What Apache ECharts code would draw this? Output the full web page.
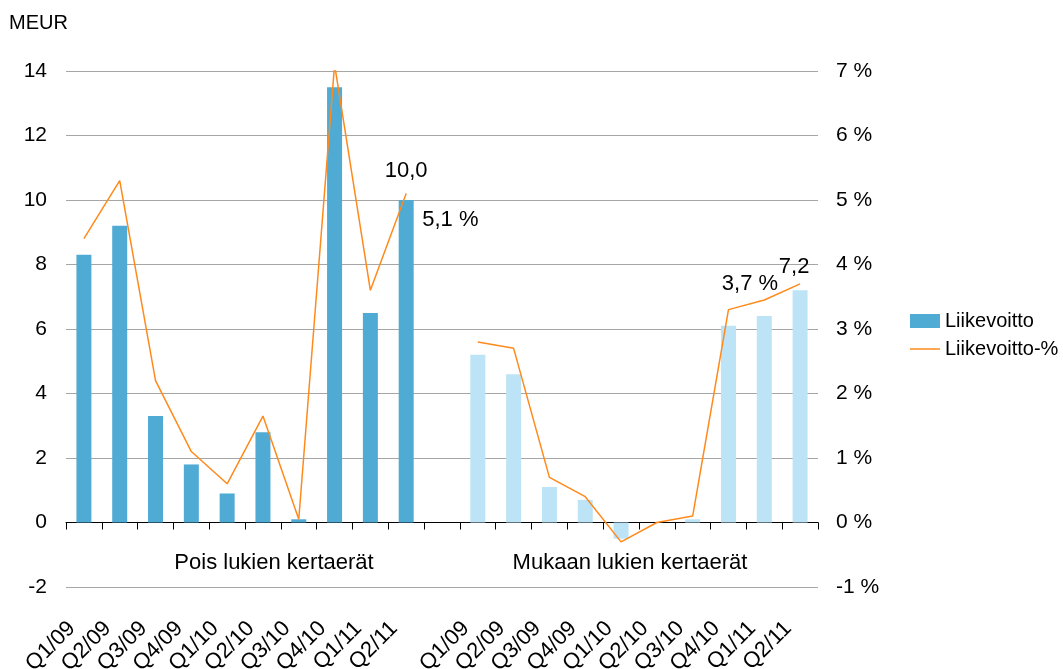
<!DOCTYPE html>
<html>
<head>
<meta charset="utf-8">
<script src="https://cdn.jsdelivr.net/npm/echarts@6/dist/echarts.min.js"></script>
<style>
  html, body { margin: 0; padding: 0; background: #fff; }
  #main { width: 1063px; height: 669px; }
</style>
</head>
<body>
<div id="main"></div>
<script>
// quarters, shown twice: without and with one-off items
var quarters = ['Q1/09', 'Q2/09', 'Q3/09', 'Q4/09', 'Q1/10', 'Q2/10', 'Q3/10', 'Q4/10', 'Q1/11', 'Q2/11'];
var groupNames = ['Pois lukien kertaerät', 'Mukaan lukien kertaerät'];

// Liikevoitto, MEUR
var profitExcl = [8.3, 9.2, 3.3, 1.8, 0.9, 2.8, 0.1, 13.5, 6.5, 10.0];
var profitIncl = [5.2, 4.6, 1.1, 0.7, -0.5, 0.0, 0.1, 6.1, 6.4, 7.2];

// Liikevoitto-%, percent
var marginExcl = [4.4, 5.3, 2.2, 1.1, 0.6, 1.65, 0.05, 7.1, 3.6, 5.1];
var marginIncl = [2.8, 2.7, 0.7, 0.4, -0.3, 0.0, 0.1, 3.3, 3.45, 3.7];

var darkBlue = '#4fabd4';
var lightBlue = '#bde3f6';
var orange = '#ff8a1c';

function fmt(v) { return v.toFixed(1).replace('.', ','); }

// one empty category between the two groups
var categories = quarters.concat(['']).concat(quarters);

var barData = [];
profitExcl.forEach(function (v, i) {
    var item = { value: v, itemStyle: { color: darkBlue } };
    if (i === profitExcl.length - 1) {
        item.label = { show: true, position: 'top', offset: [0, -13], formatter: fmt(v) };
    }
    barData.push(item);
});
barData.push(null);
profitIncl.forEach(function (v, i) {
    var item = { value: v, itemStyle: { color: lightBlue } };
    if (i === profitIncl.length - 1) {
        item.label = { show: true, position: 'top', offset: [-6, -7], formatter: fmt(v) };
    }
    barData.push(item);
});

var lineData = [];
marginExcl.forEach(function (v, i) {
    var item = { value: v };
    if (i === marginExcl.length - 1) {
        item.label = { show: true, position: 'right', offset: [11, 26], formatter: fmt(v) + ' %' };
    }
    lineData.push(item);
});
lineData.push(null);
marginIncl.forEach(function (v, i) {
    var item = { value: v };
    if (i === marginIncl.length - 1) {
        item.label = { show: true, position: 'left', offset: [-17, 0], formatter: fmt(v) + ' %' };
    }
    lineData.push(item);
});

var font = 'Liberation Sans, Arial, sans-serif';

var option = {
    animation: false,
    textStyle: { fontFamily: font, color: '#000' },
    grid: { left: 66, right: 245, top: 71, bottom: 82, containLabel: false, outerBoundsMode: 'none' },
    legend: {
        orient: 'vertical',
        left: 905,
        top: 306,
        itemWidth: 30,
        itemHeight: 14,
        itemGap: 8,
        textStyle: { fontSize: 20, color: '#000', fontFamily: font },
        data: [
            { name: 'Liikevoitto', icon: 'rect' },
            { name: 'Liikevoitto-%', icon: 'path://M0,0 L30,0 L30,1.5 L0,1.5 Z' }
        ]
    },
    graphic: [
        { type: 'text', x: 9, y: 23, style: { text: 'MEUR', font: '20px ' + font, fill: '#000', textVerticalAlign: 'middle' } },
        { type: 'text', x: 274, y: 563, style: { text: groupNames[0], font: '22px ' + font, fill: '#000', textAlign: 'center', textVerticalAlign: 'middle' } },
        { type: 'text', x: 630, y: 563, style: { text: groupNames[1], font: '22px ' + font, fill: '#000', textAlign: 'center', textVerticalAlign: 'middle' } }
    ],
    xAxis: [
        {
            type: 'category',
            data: categories,
            axisLine: { onZero: true, lineStyle: { color: '#000', width: 1 } },
            axisTick: { show: true, interval: 0, length: 7, lineStyle: { color: '#000' } },
            axisLabel: { show: false }
        },
        {
            type: 'category',
            data: categories,
            position: 'bottom',
            axisLine: { show: false, onZero: false },
            axisTick: { show: false },
            axisLabel: { interval: 0, rotate: 45, margin: 26, padding: [0, 17, 0, 0], fontSize: 22, color: '#000', fontFamily: font }
        }
    ],
    yAxis: [
        {
            type: 'value',
            min: -2,
            max: 14,
            interval: 2,
            axisLine: { show: false },
            axisTick: { show: false },
            axisLabel: { fontSize: 21, color: '#000', margin: 19, fontFamily: font },
            splitLine: { lineStyle: { color: '#a6a6a6', width: 1 } }
        },
        {
            type: 'value',
            min: -1,
            max: 7,
            interval: 1,
            axisLine: { show: false },
            axisTick: { show: false },
            axisLabel: { fontSize: 21, color: '#000', margin: 18, fontFamily: font, formatter: '{value} %' },
            splitLine: { show: false }
        }
    ],
    series: [
        {
            name: 'Liikevoitto',
            type: 'bar',
            xAxisIndex: 0,
            yAxisIndex: 0,
            barWidth: 15,
            itemStyle: { color: darkBlue },
            label: { fontSize: 22, color: '#000', fontFamily: font },
            data: barData
        },
        {
            name: 'Liikevoitto-%',
            type: 'line',
            xAxisIndex: 0,
            yAxisIndex: 1,
            symbol: 'circle',
            symbolSize: 0,
            showSymbol: true,
            connectNulls: false,
            lineStyle: { color: orange, width: 1.5 },
            itemStyle: { color: orange },
            label: { fontSize: 22, color: '#000', fontFamily: font },
            data: lineData
        }
    ]
};

var chart = echarts.init(document.getElementById('main'));
chart.setOption(option);
</script>
</body>
</html>
